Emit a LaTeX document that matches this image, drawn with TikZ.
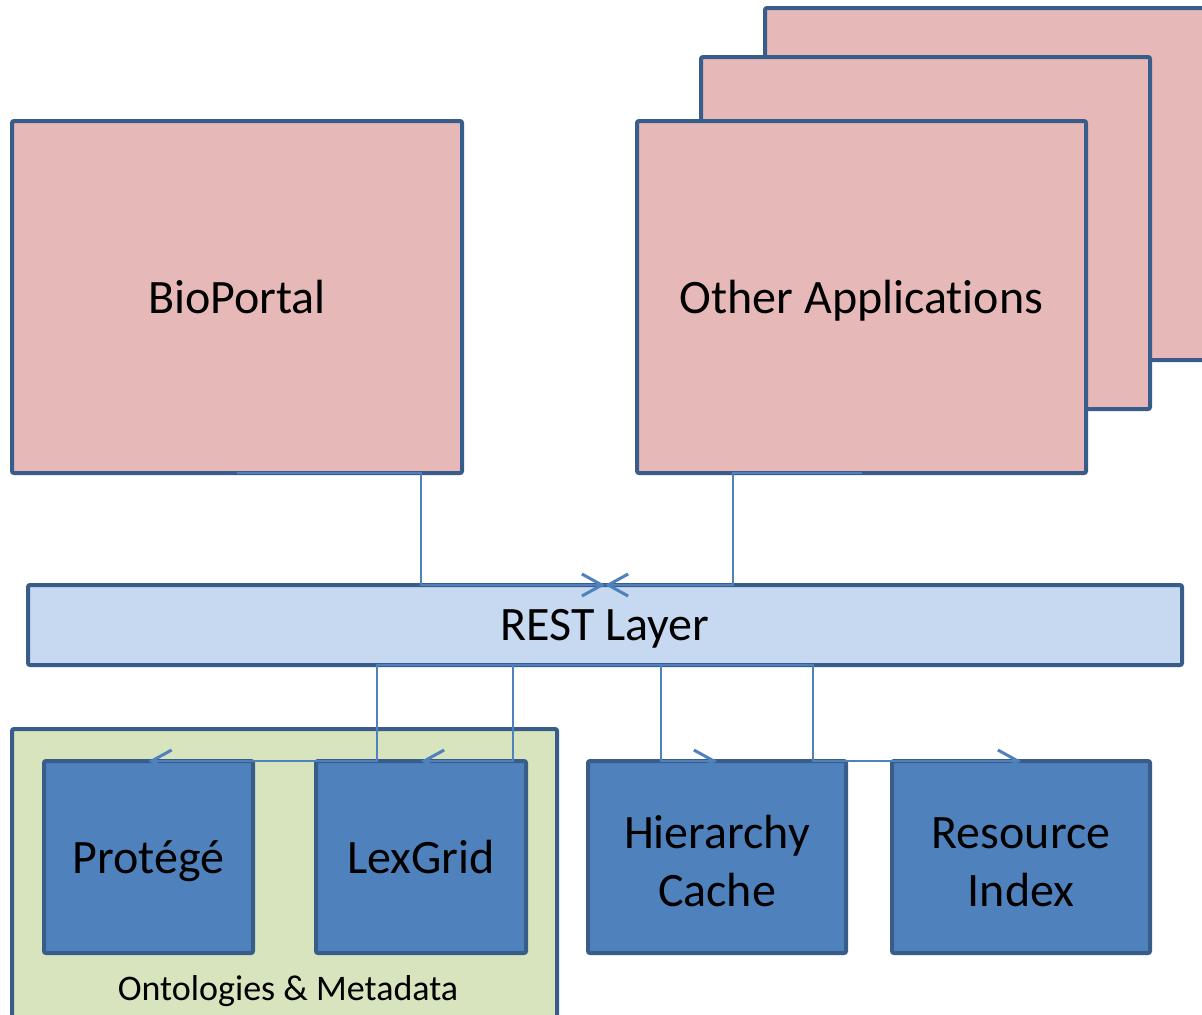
\documentclass[tikz,border=0pt]{standalone}
\usepackage{fontspec}
\setmainfont[Ligatures=NoCommon]{Carlito}
\usetikzlibrary{arrows.meta}
\definecolor{bordc}{HTML}{385D8A}
\definecolor{pinkc}{HTML}{E6B9B8}
\definecolor{restc}{HTML}{C6D9F1}
\definecolor{greenc}{HTML}{D7E4BD}
\definecolor{bluec}{HTML}{4F81BD}
\newcommand{\topstrut}{\rule{0pt}{20.2pt}}
\tikzset{
  box/.style={draw=bordc, line width=2pt, rounded corners=1pt, outer sep=0pt, inner sep=0pt, align=center, text depth=0pt, font=\fontsize{24}{28.8}\selectfont},
  app/.style={box, fill=pinkc},
  comp/.style={box, fill=bluec},
  conn/.style={draw=bluec, line width=0.75pt, -{Straight Barb[length=10pt,width=11pt,line width=1.5pt]}},
}
\begin{document}
\begin{tikzpicture}[x=0.5pt,y=-0.5pt]
\clip (0,0) rectangle (1202,1014);
\fill[white] (0,0) rectangle (1202,1014);
% stacked applications
\node[app, minimum width=224.5pt, minimum height=176pt] (back) at (989.5,184) {};
\node[app, minimum width=224.5pt, minimum height=176pt] (mid) at (925.5,233) {};
\node[app, minimum width=224.5pt, minimum height=176pt] (oth) at (861.5,297) {Other Applications};
\node[app, minimum width=225pt, minimum height=176pt] (bio) at (237,297) {BioPortal};
% REST layer
\node[box, fill=restc, minimum width=577pt, minimum height=40pt] (rest) at (605,625) {REST Layer};
% ontologies group
\node[box, fill=greenc, minimum width=272.5pt, minimum height=160pt] (grp) at (284.5,889) {};
\node[font=\fontsize{18}{21.6}\selectfont, inner sep=0pt, text depth=0pt] (grplab) at (288,988) {Ontologies \& Metadata};
% components
\node[comp, minimum width=104.5pt, minimum height=96pt] (pro) at (148.5,857) {Protégé};
\node[comp, minimum width=105pt, minimum height=96pt] (lex) at (421,857) {LexGrid};
\node[comp, minimum width=129pt, minimum height=96pt] (hier) at (717,857) {\topstrut Hierarchy\\Cache};
\node[comp, minimum width=129pt, minimum height=96pt] (res) at (1021,857) {\topstrut Resource\\Index};
% connectors
\draw[conn] (bio.south) -- ++(184,0) |- (rest.north);
\draw[conn] (oth.south) -- ++(-128.5,0) |- (rest.north);
\draw[conn] (rest.south) -- ++(-228,0) |- (pro.north);
\draw[conn] (rest.south) -- ++(-92,0) |- (lex.north);
\draw[conn] (rest.south) -- ++(56,0) |- (hier.north);
\draw[conn] (rest.south) -- ++(208,0) |- (res.north);
\end{tikzpicture}
\end{document}
